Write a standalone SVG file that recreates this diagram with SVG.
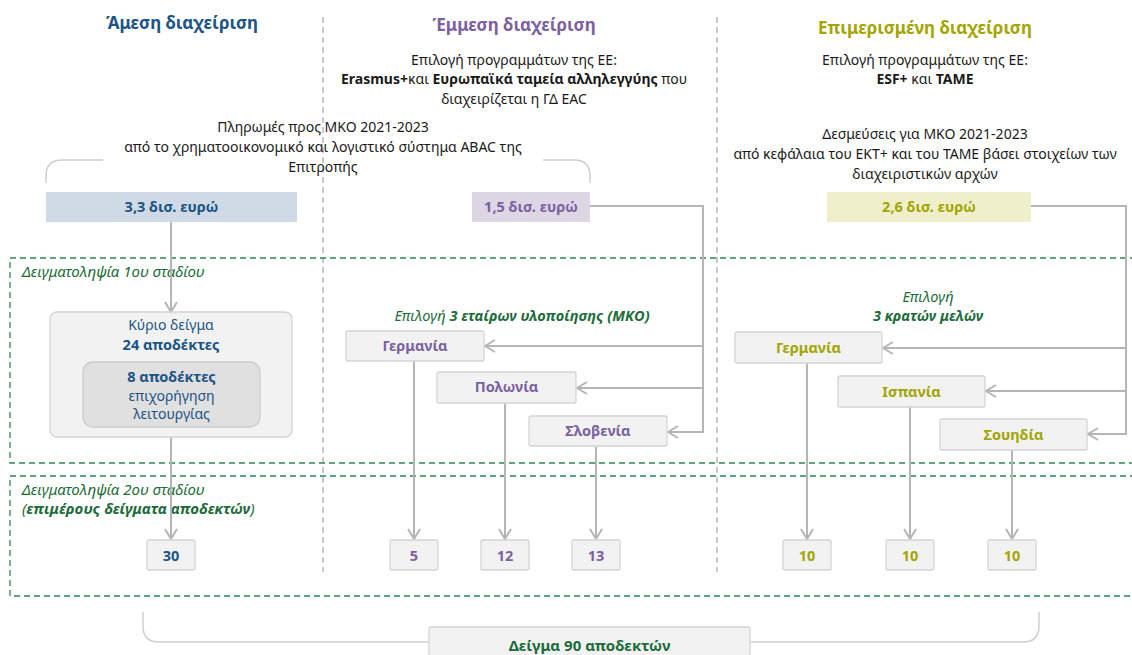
<svg xmlns="http://www.w3.org/2000/svg" width="1132" height="655" viewBox="0 0 1132 655">
<defs>
<style>
text{font-family:"Noto Sans","Open Sans","Liberation Sans",sans-serif;}
.t{font-size:17px;font-weight:bold;text-anchor:middle;}
.b{font-size:14px;fill:#1a1a1a;text-anchor:middle;}
.bb{font-weight:bold;}
.g{fill:#1c6b3a;font-style:italic;font-size:14.5px;}
.gs{font-size:15px;}
.sep{stroke:#ababab;stroke-width:1.3;stroke-dasharray:6 4;fill:none;}
.stage{stroke:#2b8653;stroke-width:1.3;stroke-dasharray:6 4;fill:none;}
.box{fill:#f2f2f2;stroke:#d4d4d4;stroke-width:1.3;}
.ln{stroke:#b5b5b5;stroke-width:2;fill:none;}
.br{stroke:#cfcfcf;stroke-width:1.5;fill:none;}
.lbl{font-size:14.5px;font-weight:bold;text-anchor:middle;}
.blue{fill:#1b5485;}
.pur{fill:#7b619f;}
.oli{fill:#a3a500;}
.grn{fill:#1c6b3a;}
</style>
<marker id="ah" viewBox="0 0 12 14" refX="11" refY="7" markerWidth="12" markerHeight="14" markerUnits="userSpaceOnUse" orient="auto">
<path d="M1,1 L11,7 L1,13" fill="none" stroke="#b5b5b5" stroke-width="2"/>
</marker>
</defs>
<rect width="1132" height="655" fill="#ffffff"/>

<g id="separators">
<line class="sep" x1="323" y1="17" x2="323" y2="572"/>
<line class="sep" x1="717" y1="17" x2="717" y2="572"/>
</g>

<g id="stages">
<rect class="stage" x="10" y="258" width="1140" height="205"/>
<rect class="stage" x="10" y="476" width="1140" height="120"/>
<text class="g gs" x="22" y="277">Δειγματοληψία 1ου σταδίου</text>
<text class="g gs" x="22" y="495">Δειγματοληψία 2ου σταδίου</text>
<text class="g gs" x="22" y="514">(<tspan class="bb">επιμέρους δείγματα αποδεκτών</tspan>)</text>
</g>

<g id="headers">
<text class="t blue" x="182" y="29">Άμεση διαχείριση</text>
<text class="t pur" x="514" y="31">Έμμεση διαχείριση</text>
<text class="t oli" x="925" y="34">Επιμερισμένη διαχείριση</text>
<text class="b" x="514" y="65">Επιλογή προγραμμάτων της ΕΕ:</text>
<text class="b" x="514" y="84"><tspan class="bb">Erasmus+</tspan>και <tspan class="bb">Ευρωπαϊκά ταμεία αλληλεγγύης</tspan> που</text>
<text class="b" x="514" y="104">διαχειρίζεται η ΓΔ EAC</text>
<text class="b" x="925" y="65">Επιλογή προγραμμάτων της ΕΕ:</text>
<text class="b" x="925" y="84"><tspan class="bb">ESF+</tspan> και <tspan class="bb">ΤΑΜΕ</tspan></text>
<text class="b" x="323" y="132">Πληρωμές προς ΜΚΟ 2021-2023</text>
<text class="b" x="323" y="152">από το χρηματοοικονομικό και λογιστικό σύστημα ABAC της</text>
<text class="b" x="323" y="172">Επιτροπής</text>
<text class="b" x="925" y="139">Δεσμεύσεις για ΜΚΟ 2021-2023</text>
<text class="b" x="925" y="159">από κεφάλαια του ΕΚΤ+ και του ΤΑΜΕ βάσει στοιχείων των</text>
<text class="b" x="925" y="179">διαχειριστικών αρχών</text>
<path class="br" d="M46,183 L46,176 Q46,160 62,160 L103,160"/>
<path class="br" d="M543,160 L574,160 Q590,160 590,176 L590,183"/>
</g>

<g id="connectors">
<line class="ln" x1="171" y1="222" x2="171" y2="312" marker-end="url(#ah)"/>
<line class="ln" x1="171" y1="437" x2="171" y2="539" marker-end="url(#ah)"/>
<polyline class="ln" points="590,206 703,206 703,432"/>
<line class="ln" x1="703" y1="346" x2="485" y2="346" marker-end="url(#ah)"/>
<line class="ln" x1="703" y1="388" x2="577" y2="388" marker-end="url(#ah)"/>
<line class="ln" x1="704" y1="432" x2="668" y2="432" marker-end="url(#ah)"/>
<polyline class="ln" points="1031,206 1126,206 1126,434"/>
<line class="ln" x1="1126" y1="348" x2="883" y2="348" marker-end="url(#ah)"/>
<line class="ln" x1="1126" y1="391" x2="986" y2="391" marker-end="url(#ah)"/>
<line class="ln" x1="1127" y1="434" x2="1088" y2="434" marker-end="url(#ah)"/>
<line class="ln" x1="414" y1="361" x2="414" y2="539" marker-end="url(#ah)"/>
<line class="ln" x1="505" y1="403" x2="505" y2="539" marker-end="url(#ah)"/>
<line class="ln" x1="596" y1="447" x2="596" y2="539" marker-end="url(#ah)"/>
<line class="ln" x1="807" y1="363" x2="807" y2="539" marker-end="url(#ah)"/>
<line class="ln" x1="910" y1="407" x2="910" y2="539" marker-end="url(#ah)"/>
<line class="ln" x1="1012" y1="450" x2="1012" y2="539" marker-end="url(#ah)"/>
<path class="br" d="M143,612 L143,626 Q143,642 159,642 L429,642"/>
<path class="br" d="M750,642 L1023,642 Q1039,642 1039,626 L1039,612"/>
</g>

<g id="amount-direct">
<rect x="46" y="192" width="251" height="30" fill="#cfdae5"/>
<text class="lbl blue" x="171.5" y="212">3,3 δισ. ευρώ</text>
</g>
<g id="amount-indirect">
<rect x="472" y="192" width="118" height="30" fill="#dcd6e5"/>
<text class="lbl pur" x="531" y="212">1,5 δισ. ευρώ</text>
</g>
<g id="amount-shared">
<rect x="827" y="192" width="204" height="30" fill="#efefcc"/>
<text class="lbl oli" x="929" y="212">2,6 δισ. ευρώ</text>
</g>

<g id="main-sample">
<rect class="box" x="50" y="312" width="242" height="125" rx="7"/>
<text class="b blue" x="171" y="330" style="fill:#1b5485">Κύριο δείγμα</text>
<text class="lbl blue" x="171" y="350">24 αποδέκτες</text>
<rect x="83" y="362" width="177" height="65" rx="10" fill="#e0e0e0" stroke="#cccccc" stroke-width="1.3"/>
<text class="lbl blue" x="171.5" y="382">8 αποδέκτες</text>
<text class="b" x="171.5" y="401" style="fill:#1b5485">επιχορήγηση</text>
<text class="b" x="171.5" y="419" style="fill:#1b5485">λειτουργίας</text>
</g>

<g id="sel-indirect">
<text class="g" x="522" y="321" text-anchor="middle">Επιλογή <tspan class="bb">3 εταίρων υλοποίησης (ΜΚΟ)</tspan></text>
</g>
<g id="sel-shared">
<text class="g" x="928" y="302" text-anchor="middle">Επιλογή</text>
<text class="g bb" x="928" y="321" text-anchor="middle">3 κρατών μελών</text>
</g>

<g id="de-indirect"><rect class="box" x="346" y="331" width="138" height="30" rx="2"/><text class="lbl pur" x="415" y="351">Γερμανία</text></g>
<g id="pl-indirect"><rect class="box" x="437" y="372" width="139" height="31" rx="2"/><text class="lbl pur" x="506.5" y="392">Πολωνία</text></g>
<g id="si-indirect"><rect class="box" x="529" y="416" width="138" height="30" rx="2"/><text class="lbl pur" x="598" y="436">Σλοβενία</text></g>
<g id="de-shared"><rect class="box" x="735" y="332" width="147" height="31" rx="2"/><text class="lbl oli" x="808.5" y="353">Γερμανία</text></g>
<g id="es-shared"><rect class="box" x="838" y="376" width="147" height="31" rx="2"/><text class="lbl oli" x="911.5" y="397">Ισπανία</text></g>
<g id="se-shared"><rect class="box" x="940" y="419" width="147" height="31" rx="2"/><text class="lbl oli" x="1013.5" y="440">Σουηδία</text></g>

<g id="n30"><rect class="box" x="147" y="540" width="48" height="30" rx="2"/><text class="lbl blue" x="171" y="561">30</text></g>
<g id="n5"><rect class="box" x="390" y="540" width="48" height="30" rx="2"/><text class="lbl pur" x="414" y="561">5</text></g>
<g id="n12"><rect class="box" x="481" y="540" width="48" height="30" rx="2"/><text class="lbl pur" x="505" y="561">12</text></g>
<g id="n13"><rect class="box" x="572" y="540" width="48" height="30" rx="2"/><text class="lbl pur" x="596" y="561">13</text></g>
<g id="n10a"><rect class="box" x="783" y="540" width="48" height="30" rx="2"/><text class="lbl oli" x="807" y="561">10</text></g>
<g id="n10b"><rect class="box" x="886" y="540" width="48" height="30" rx="2"/><text class="lbl oli" x="910" y="561">10</text></g>
<g id="n10c"><rect class="box" x="988" y="540" width="48" height="30" rx="2"/><text class="lbl oli" x="1012" y="561">10</text></g>

<g id="total"><rect class="box" x="429" y="627" width="321" height="40" rx="2"/><text class="lbl grn" x="589.5" y="651" style="font-size:15px">Δείγμα 90 αποδεκτών</text></g>
</svg>
